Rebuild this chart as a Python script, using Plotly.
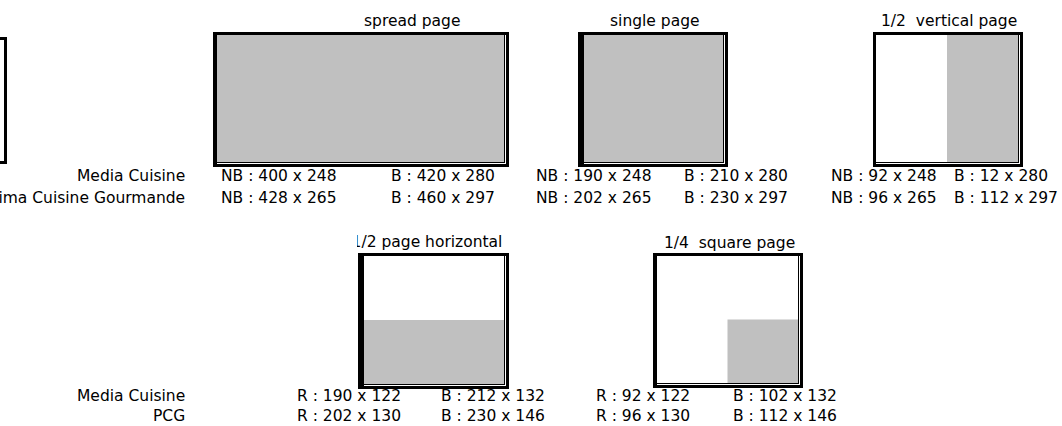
import plotly.graph_objects as go

W, H = 1062, 426

# ---------------- data ----------------
formats = ["spread page", "single page", "1/2  vertical page",
           "1/2 page horizontal", "1/4  square page"]
row1_publications = ["Media Cuisine", "Prima Cuisine Gourmande"]
row2_publications = ["Media Cuisine", "PCG"]

spread_nb_w = [400, 428]
spread_nb_h = [248, 265]
spread_b_w = [420, 460]
spread_b_h = [280, 297]

single_nb_w = [190, 202]
single_nb_h = [248, 265]
single_b_w = [210, 230]
single_b_h = [280, 297]

halfv_nb_w = [92, 96]
halfv_nb_h = [248, 265]
halfv_b_w = [12, 112]
halfv_b_h = [280, 297]

halfh_r_w = [190, 202]
halfh_r_h = [122, 130]
halfh_b_w = [212, 230]
halfh_b_h = [132, 146]

quarter_r_w = [92, 96]
quarter_r_h = [122, 130]
quarter_b_w = [102, 112]
quarter_b_h = [132, 146]

# ---------------- layout / styling ----------------
FONT = dict(family="DejaVu Sans", size=15.5, color="#000000")
GRAY = "#C0C0C0"

row1_y = [176, 198]
row2_y = [396, 416]
label_right_x = 186

# box: (x0, x1, y0, y1), left border width, gray fraction (fx0, fx1, fy0, fy1)
panels = [
    dict(title=formats[0], box=(213, 509, 32, 167), lw=4, gray=(0, 1, 0, 1), tx=412, ty=21),
    dict(title=formats[1], box=(578, 728, 32, 167), lw=6, gray=(0, 1, 0, 1), tx=655, ty=21),
    dict(title=formats[2], box=(873, 1023, 32, 167), lw=3, gray=(0.5, 1, 0, 1), tx=949, ty=21),
    dict(title=formats[3], box=(358, 509, 253, 389), lw=6, gray=(0, 1, 0.5, 1), tx=427, ty=243, clip=True),
    dict(title=formats[4], box=(653, 803, 253, 388), lw=4, gray=(0.5, 1, 0.5, 1), tx=729, ty=243),
]

# text columns: (prefix, widths, heights, left x, row ys)
columns = [
    ("NB", spread_nb_w, spread_nb_h, 220, row1_y),
    ("B", spread_b_w, spread_b_h, 390, row1_y),
    ("NB", single_nb_w, single_nb_h, 535, row1_y),
    ("B", single_b_w, single_b_h, 683, row1_y),
    ("NB", halfv_nb_w, halfv_nb_h, 830, row1_y),
    ("B", halfv_b_w, halfv_b_h, 953, row1_y),
    ("R", halfh_r_w, halfh_r_h, 296, row2_y),
    ("B", halfh_b_w, halfh_b_h, 440, row2_y),
    ("R", quarter_r_w, quarter_r_h, 595, row2_y),
    ("B", quarter_b_w, quarter_b_h, 732, row2_y),
]


def rect(x0, x1, y0, y1, color):
    return dict(type="rect", xref="x", yref="y", x0=x0, x1=x1, y0=y0, y1=y1,
                fillcolor=color, line=dict(width=0), layer="below")


shapes = []
# partial box at the far left (cut by the page edge)
shapes.append(rect(-10, 7, 37, 164, "black"))
shapes.append(rect(-10, 4, 40, 161, "white"))

for p in panels:
    x0, x1, y0, y1 = p["box"]
    lw, tw = p["lw"], 3
    ix0, iy0 = x0 + lw, y0 + tw
    shapes.append(rect(x0, x1, y0, y1, "black"))
    shapes.append(rect(ix0, x1 - 3, iy0, y1 - 3, "white"))
    shapes.append(rect(ix0, x1 - 4, iy0, y1 - 4, "black"))
    ix1, iy1 = x1 - 5, y1 - 5
    shapes.append(rect(ix0, ix1, iy0, iy1, "white"))
    fx0, fx1, fy0, fy1 = p["gray"]
    shapes.append(rect(ix0 + fx0 * (ix1 - ix0), ix0 + fx1 * (ix1 - ix0),
                       iy0 + fy0 * (iy1 - iy0), iy0 + fy1 * (iy1 - iy0), GRAY))

annotations = []


def ann(text, x, y, xanchor):
    annotations.append(dict(text=text, x=x, y=y, xref="x", yref="y",
                            xanchor=xanchor, yanchor="middle", showarrow=False,
                            font=FONT, borderpad=0))


for name, y in zip(row1_publications, row1_y):
    ann(name, label_right_x, y, "right")
for name, y in zip(row2_publications, row2_y):
    ann(name, label_right_x, y, "right")

for prefix, ws, hs, xl, ys in columns:
    for w, h, y in zip(ws, hs, ys):
        ann(f"{prefix} : {w} x {h}", xl, y, "left")

fig = go.Figure()

clip_x0 = None
for p in panels:
    if p.get("clip"):
        clip_x0 = p["box"][0] - 1
        fig.add_trace(go.Scatter(x=[p["tx"]], y=[p["ty"]], mode="text",
                                 text=[p["title"]], textposition="middle center",
                                 textfont=FONT, cliponaxis=True,
                                 xaxis="x2", yaxis="y2", hoverinfo="skip",
                                 showlegend=False))
    else:
        ann(p["title"], p["tx"], p["ty"], "center")

fig.update_layout(
    width=W, height=H,
    margin=dict(l=0, r=0, t=0, b=0),
    paper_bgcolor="white",
    plot_bgcolor="rgba(0,0,0,0)",
    showlegend=False,
    xaxis=dict(range=[0, W], visible=False, fixedrange=True),
    yaxis=dict(range=[H, 0], visible=False, fixedrange=True),
    xaxis2=dict(range=[clip_x0, W], domain=[clip_x0 / W, 1], anchor="y2",
                visible=False, fixedrange=True),
    yaxis2=dict(range=[H, 0], domain=[0, 1], anchor="x2",
                visible=False, fixedrange=True),
    shapes=shapes,
    annotations=annotations,
)

fig.write_html("out.html", config={"displayModeBar": False},
               post_script="document.body.style.margin='0px';document.body.style.overflow='hidden';")
